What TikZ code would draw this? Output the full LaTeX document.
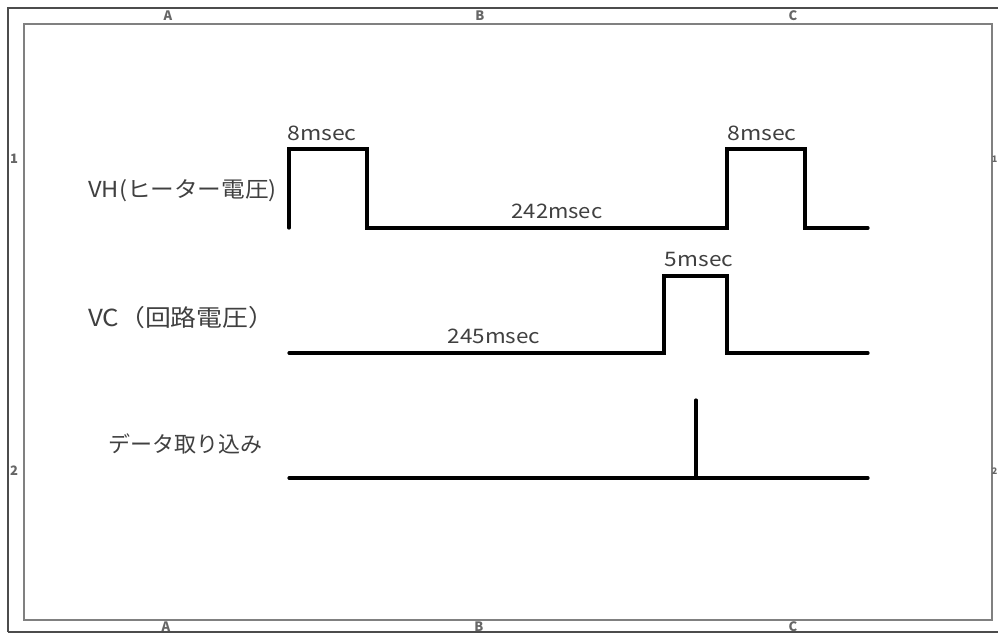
\documentclass[tikz,border=0pt]{standalone}
\usepackage{fontspec}
\setmainfont{Noto Sans CJK JP}
\newcommand{\hstretch}[2]{\scalebox{#1}[1]{#2}}
\begin{document}
\begin{tikzpicture}[x=1pt,y=-1pt,
  sig/.style={line width=3.2pt,line cap=round,line join=miter,black},
  lbl/.style={inner sep=0pt,text=black!75,font=\fontsize{20}{22}\selectfont},
  tag/.style={inner sep=0pt,text=black!75,font=\fontsize{22}{24}\selectfont,anchor=west},
  gridmark/.style={inner sep=0pt,text=black!60,font=\fontsize{13}{14}\selectfont\bfseries},
  frameo/.style={line width=1.2pt,black!70},
  framei/.style={line width=2pt,black!50}]
\useasboundingbox (0,0) rectangle (998,633);
\fill[white] (0,0) rectangle (998,633);
% frames
\draw[frameo] (8,632) -- (8,8) -- (998,8);
\draw[frameo] (8,632) -- (998,632);
\draw[framei] (24,24) rectangle (992,620);
% border marks
\node[gridmark] (ta) at (168,16) {A};
\node[gridmark] (tb) at (480,16) {B};
\node[gridmark] (tc) at (793,16) {C};
\node[gridmark] (ba) at (166,626.5) {A};
\node[gridmark] (bb) at (479,626.5) {B};
\node[gridmark] (bc) at (793,626.5) {C};
\node[gridmark] (l1) at (14,159) {1};
\node[gridmark] (l2) at (14,471) {2};
\node[gridmark,font=\fontsize{9}{10}\selectfont\bfseries] (r1) at (994.5,159) {1};
\node[gridmark,font=\fontsize{9}{10}\selectfont\bfseries] (r2) at (994.5,471) {2};
% signal labels
\node[tag] (vh) at (88,191) {\hstretch{1.075}{VH(ヒーター電圧)}};
\node[tag,font=\fontsize{23.5}{25}\selectfont] (vc) at (88,318) {\hstretch{1.1}{VC（回路電圧）}};
\node[tag] (dt) at (108,444) {データ取り込み};
% VH waveform
\draw[sig] (289,228) -- (289,149) -- (367,149) -- (367,228) -- (727,228)
  -- (727,149) -- (805,149) -- (805,228) -- (868,228);
% VC waveform
\draw[sig] (289,353) -- (664,353) -- (664,276) -- (727,276) -- (727,353) -- (868,353);
% data capture
\draw[sig] (289,478) -- (868,478);
\draw[sig] (696,478) -- (696,400);
% timing labels
\node[lbl] (t1) at (322,133) {\hstretch{1.15}{8msec}};
\node[lbl] (t2) at (762,133) {\hstretch{1.15}{8msec}};
\node[lbl] (t3) at (557,211) {\hstretch{1.1}{242msec}};
\node[lbl] (t4) at (699,259) {\hstretch{1.13}{5msec}};
\node[lbl] (t5) at (494,336) {\hstretch{1.12}{245msec}};
\end{tikzpicture}
\end{document}
